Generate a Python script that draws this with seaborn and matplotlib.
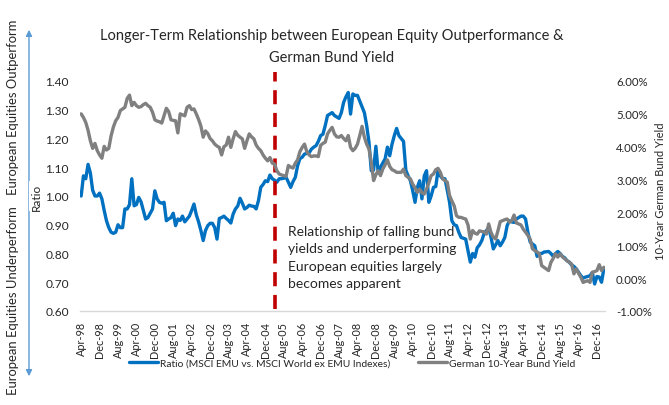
import numpy as np
import pandas as pd
import matplotlib
matplotlib.use("Agg")
import matplotlib.pyplot as plt
import seaborn as sns
from matplotlib.lines import Line2D
from matplotlib.patches import FancyArrowPatch

# Monthly data, Apr-98 .. Mar-17
ratio = [
    1.00, 1.07, 1.06, 1.11, 1.08, 1.02, 1.00, 1.00, 1.01, 0.99,
    0.95, 0.914, 0.89, 0.874, 0.87, 0.874, 0.90, 0.89, 0.89, 0.955,
    0.955, 0.97, 1.06, 0.966, 0.97, 0.995, 0.98, 0.95, 0.92, 0.925,
    0.94, 0.955, 1.018, 0.99, 0.978, 0.975, 0.978, 0.914, 0.92, 0.925,
    0.94, 0.897, 0.92, 0.915, 0.93, 0.91, 0.92, 0.93, 0.95, 0.972,
    0.935, 0.91, 0.88, 0.845, 0.88, 0.897, 0.905, 0.905, 0.89, 0.85,
    0.922, 0.925, 0.93, 0.922, 0.915, 0.906, 0.937, 0.955, 0.965, 0.992,
    0.975, 0.955, 0.96, 0.968, 0.965, 0.964, 0.955, 0.984, 1.03, 1.04,
    1.053, 1.05, 1.073, 1.06, 1.055, 1.048, 1.06, 1.06, 1.062, 1.065,
    1.048, 1.03, 1.05, 1.065, 1.105, 1.13, 1.135, 1.146, 1.148, 1.15,
    1.163, 1.17, 1.175, 1.19, 1.21, 1.215, 1.245, 1.28, 1.285, 1.29,
    1.28, 1.275, 1.27, 1.29, 1.326, 1.345, 1.36, 1.285, 1.355, 1.35,
    1.35, 1.33, 1.31, 1.29, 1.245, 1.187, 1.088, 1.09, 1.173, 1.08,
    1.10, 1.115, 1.129, 1.17, 1.14, 1.18, 1.21, 1.235, 1.21, 1.20,
    1.19, 1.09, 1.07, 1.053, 1.018, 0.978, 1.03, 1.053, 0.99, 1.07,
    1.088, 0.978, 1.00, 1.03, 1.033, 1.09, 1.07, 1.06, 1.06, 1.02,
    0.978, 0.914, 0.90, 0.897, 0.874, 0.856, 0.853, 0.85, 0.81, 0.77,
    0.80, 0.787, 0.82, 0.83, 0.845, 0.87, 0.88, 0.89, 0.856, 0.816,
    0.83, 0.845, 0.827, 0.84, 0.856, 0.897, 0.914, 0.91, 0.908, 0.92,
    0.925, 0.93, 0.93, 0.92, 0.874, 0.84, 0.833, 0.827, 0.79, 0.80,
    0.80, 0.805, 0.806, 0.807, 0.80, 0.79, 0.80, 0.807, 0.80, 0.79,
    0.785, 0.775, 0.77, 0.76, 0.755, 0.747, 0.735, 0.723, 0.714, 0.718,
    0.72, 0.723, 0.734, 0.694, 0.72, 0.718, 0.70, 0.747,
]

bund_yield = [
    5.00, 4.89, 4.74, 4.50, 4.18, 3.95, 4.10, 3.88, 3.75, 3.65,
    4.01, 3.90, 3.95, 4.33, 4.60, 4.79, 4.89, 5.10, 5.15, 5.20,
    5.47, 5.57, 5.25, 5.35, 5.25, 5.20, 5.22, 5.28, 5.32, 5.25,
    5.20, 5.05, 4.82, 4.78, 4.76, 4.72, 4.95, 5.17, 5.07, 4.82,
    4.80, 4.79, 4.42, 5.00, 4.97, 4.94, 5.20, 5.25, 5.13, 5.15,
    5.00, 4.83, 4.63, 4.29, 4.48, 4.40, 4.25, 4.18, 4.08, 4.02,
    3.98, 3.75, 4.00, 4.05, 4.29, 3.98, 4.24, 4.46, 4.35, 4.29,
    4.24, 3.95, 4.18, 4.39, 4.30, 4.24, 4.05, 3.95, 3.88, 3.75,
    3.65, 3.57, 3.67, 3.50, 3.47, 3.27, 3.17, 3.14, 3.12, 3.10,
    3.43, 3.38, 3.35, 3.50, 3.60, 3.85, 3.98, 4.08, 3.85, 3.75,
    3.70, 3.72, 3.72, 3.70, 4.04, 4.10, 4.14, 4.39, 4.50, 4.59,
    4.39, 4.30, 4.29, 4.34, 4.25, 4.18, 4.34, 3.98, 3.88, 3.95,
    4.08, 4.34, 4.62, 4.29, 4.08, 3.93, 3.53, 2.97, 3.15, 3.27,
    3.12, 3.32, 3.45, 3.60, 3.40, 3.30, 3.27, 3.22, 3.22, 3.22,
    3.32, 3.12, 3.07, 3.02, 2.86, 2.75, 2.61, 2.71, 2.60, 2.56,
    2.71, 2.90, 3.12, 3.17, 3.30, 3.34, 3.22, 3.02, 2.97, 2.92,
    2.51, 2.35, 2.20, 1.90, 1.85, 1.85, 1.82, 1.80, 1.62, 1.19,
    1.45, 1.37, 1.34, 1.44, 1.42, 1.41, 1.34, 1.65, 1.39, 1.25,
    1.19, 1.44, 1.72, 1.75, 1.78, 1.80, 1.70, 1.75, 1.92, 1.68,
    1.65, 1.62, 1.49, 1.40, 1.30, 1.19, 0.89, 0.84, 0.80, 0.74,
    0.38, 0.33, 0.28, 0.23, 0.48, 0.60, 0.74, 0.64, 0.74, 0.65,
    0.59, 0.53, 0.48, 0.43, 0.13, 0.28, 0.15, 0.03, -0.13, -0.10,
    -0.08, -0.13, 0.18, 0.20, 0.23, 0.41, 0.23, 0.33,
]

tick_labels = [
    "Apr-98", "Dec-98", "Aug-99", "Apr-00", "Dec-00", "Aug-01", "Apr-02",
    "Dec-02", "Aug-03", "Apr-04", "Dec-04", "Aug-05", "Apr-06", "Dec-06",
    "Aug-07", "Apr-08", "Dec-08", "Aug-09", "Apr-10", "Dec-10", "Aug-11",
    "Apr-12", "Dec-12", "Aug-13", "Apr-14", "Dec-14", "Aug-15", "Apr-16",
    "Dec-16",
]
ratio_ticks = [0.60, 0.70, 0.80, 0.90, 1.00, 1.10, 1.20, 1.30, 1.40]
yield_ticks = [-1, 0, 1, 2, 3, 4, 5, 6]
event_month = 84  # Apr-05

title = "Longer-Term Relationship between European Equity Outperformance &\nGerman Bund Yield"
annotation = ("Relationship of falling bund\nyields and underperforming\n"
              "European equities largely\nbecomes apparent")
ratio_label = "Ratio (MSCI EMU vs. MSCI World ex EMU Indexes)"
yield_label = "German 10-Year Bund Yield"

sns.set_theme(style="white")
plt.rcParams['font.family'] = ['Lato', 'DejaVu Sans']
TXT = "#262626"

df = pd.DataFrame({"month": np.arange(len(ratio)), "ratio": ratio, "yield": bund_yield})

W, H = 669, 406
fig = plt.figure(figsize=(W / 100, H / 100), dpi=100)
ax = fig.add_axes([80 / W, 1 - 312 / H, (605 - 80) / W, (312 - 82) / H])
ax2 = ax.twinx()

sns.lineplot(data=df, x="month", y="ratio", ax=ax, color="#0070C0", lw=2.4)
sns.lineplot(data=df, x="month", y="yield", ax=ax2, color="#808080", lw=2.4)

ax.set_xlim(-0.5, len(ratio) - 0.5)
ax.set_ylim(0.6, 1.4)
ax2.set_ylim(-1, 6)

for a in (ax, ax2):
    for s in a.spines.values():
        s.set_visible(False)
    a.set_xlabel("")
    a.set_ylabel("")
    a.grid(False)
ax.spines["bottom"].set_visible(True)
ax.spines["bottom"].set_color("#D9D9D9")
ax.spines["bottom"].set_linewidth(1.0)

ax.set_xticks(np.arange(0, len(ratio), 8))
ax.set_xticklabels(tick_labels, rotation=90, fontsize=7.8, color=TXT)
ax.set_yticks(ratio_ticks)
ax.set_yticklabels([f"{v:.2f}" for v in ratio_ticks], fontsize=8.6, color=TXT)
ax2.set_yticks(yield_ticks)
ax2.set_yticklabels([f"{v:.2f}%" for v in yield_ticks], fontsize=8.2, color=TXT)
ax.tick_params(axis="x", length=0, pad=7)
ax.tick_params(axis="y", length=0, pad=8)
ax2.tick_params(axis="y", length=0, pad=8)

# Event line
ax.axvline(event_month, ymin=0.01, ymax=1.04, color="#C00000", lw=2.6,
           linestyle=(0, (3.9, 2.4)), clip_on=False, zorder=5)

fig.text(288 / W, 1 - 226 / H, annotation, ha="left", va="top", fontsize=10,
         color=TXT, linespacing=1.55)
fig.text(332 / W, 1 - 29 / H, title, ha="center", va="top", fontsize=10.5,
         color=TXT, linespacing=1.7)

# Left side labels and arrow
arrow = FancyArrowPatch((29 / W, 1 - 380 / H), (29 / W, 1 - 28 / H),
                        transform=fig.transFigure, arrowstyle="<|-|>",
                        mutation_scale=9, color="#5B9BD5", lw=1.0)
fig.add_artist(arrow)
fig.text(36 / W, 1 - 197 / H, "Ratio", rotation=90, ha="center", va="center",
         fontsize=8.5, color=TXT,
         bbox=dict(facecolor="white", edgecolor="none", pad=1))
fig.text(13 / W, 1 - 301 / H, "European Equities Underperform", rotation=90,
         ha="center", va="center", fontsize=9.4, color=TXT)
fig.text(13 / W, 1 - 107 / H, "European Equities Outperform", rotation=90,
         ha="center", va="center", fontsize=9.4, color=TXT)
fig.text(661 / W, 1 - 191 / H, "10-Year German Bund Yield", rotation=90,
         ha="center", va="center", fontsize=8, color=TXT)

handles = [Line2D([], [], color="#0070C0", lw=2.4), Line2D([], [], color="#808080", lw=2.4)]
fig.legend(handles, [ratio_label, yield_label], loc="center",
           bbox_to_anchor=(352 / W, 1 - 364 / H), ncol=2, frameon=False,
           fontsize=7.35, handlelength=2.9, handletextpad=0.15, columnspacing=2.7,
           labelcolor=TXT)

fig.savefig("out.png", dpi=100)
